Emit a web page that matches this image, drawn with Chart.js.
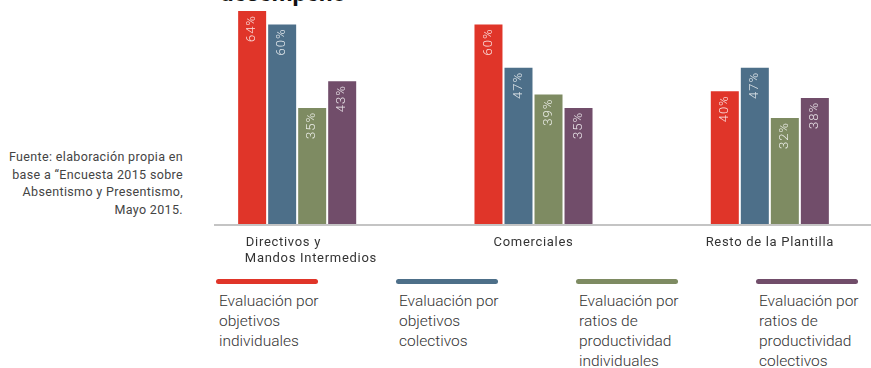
<!DOCTYPE html>
<html>
<head>
<meta charset="utf-8">
<script src="https://cdn.jsdelivr.net/npm/chart.js@4"></script>
<style>
    html, body { margin: 0; padding: 0; width: 871px; height: 368px; overflow: hidden; background: #fff; }
    #wrap { position: absolute; left: 0; top: 0; width: 900px; height: 270px; }
    #title { position: absolute; left: 220px; top: -21px; font: bold 24px Roboto, sans-serif; color: #111; white-space: nowrap; }
    #source { position: absolute; left: 0; top: 148px; width: 183px; text-align: right;
              font: 12.5px Roboto, sans-serif; letter-spacing: 0.35px; line-height: 17.5px; color: #444; white-space: nowrap; }
    .legend-item { position: absolute; top: 279px; width: 110px; }
    .legend-item .bar { height: 5px; border-radius: 3px; width: 102px; margin-left: -3px; }
    .legend-item .txt { margin-top: 7px; font: 300 15.5px Roboto, sans-serif; line-height: 20px; color: #333; }
</style>
</head>
<body>
<div id="title">desempeño</div>
<div id="source">Fuente: elaboración propia en<br>base a “Encuesta 2015 sobre<br>Absentismo y Presentismo,<br>Mayo 2015.</div>
<div id="wrap"><canvas id="chart" width="900" height="270"></canvas></div>
<div id="legend"></div>
<script>
let categories = [ ['Directivos y', 'Mandos Intermedios'], 'Comerciales', 'Resto de la Plantilla' ];
let seriesNames = [
    'Evaluación por objetivos individuales',
    'Evaluación por objetivos colectivos',
    'Evaluación por ratios de productividad individuales',
    'Evaluación por ratios de productividad colectivos'
];
let legendLines = [
    ['Evaluación por', 'objetivos', 'individuales'],
    ['Evaluación por', 'objetivos', 'colectivos'],
    ['Evaluación por', 'ratios de', 'productividad', 'individuales'],
    ['Evaluación por', 'ratios de', 'productividad', 'colectivos']
];
let objIndividual   = [ 64, 60, 40 ];
let objColectivo    = [ 60, 47, 47 ];
let ratioIndividual = [ 35, 39, 32 ];
let ratioColectivo  = [ 43, 35, 38 ];
let seriesColors = [ 'rgb(224,53,41)', 'rgb(77,111,137)', 'rgb(126,139,98)', 'rgb(113,77,106)' ];

let legendX = [ 219, 399, 579, 759 ];

// legend in html, multi-line labels under a thick coloured stroke
let legend = document.getElementById( 'legend' );
legendLines.forEach( ( lines, i ) => {
    let item = document.createElement( 'div' );
    item.className = 'legend-item';
    item.style.left = legendX[i] + 'px';
    item.title = seriesNames[i];
    item.innerHTML = '<div class="bar" style="background:' + seriesColors[i] + '"></div>' +
                     '<div class="txt">' + lines.join( '<br>' ) + '</div>';
    legend.appendChild( item );
} );

// percentages written bottom-to-top inside the top of every bar
let barLabels = {
    id: 'barLabels',
    afterDatasetsDraw: ( chart ) => {
        let ctx = chart.ctx;
        ctx.save();
        ctx.font = '300 13px Roboto, sans-serif';
        ctx.letterSpacing = '1px';
        ctx.fillStyle = 'rgba(255,255,255,0.85)';
        ctx.textAlign = 'right';
        ctx.textBaseline = 'middle';
        chart.data.datasets.forEach( ( ds, i ) => {
            chart.getDatasetMeta( i ).data.forEach( ( bar, j ) => {
                ctx.save();
                ctx.translate( bar.x, bar.y + 4 );
                ctx.rotate( -Math.PI / 2 );
                ctx.fillText( ds.data[j] + '%', 0, 0 );
                ctx.restore();
            } );
        } );
        ctx.restore();
    }
};

// grey base line, starting a little before the first group
let baseLine = {
    id: 'baseLine',
    beforeDraw: ( chart ) => {
        chart.ctx.letterSpacing = '0.7px';
    },
    afterDatasetsDraw: ( chart ) => {
        let ctx = chart.ctx;
        let y = chart.chartArea.bottom;
        ctx.save();
        ctx.strokeStyle = '#c4c4c4';
        ctx.lineWidth = 2;
        ctx.beginPath();
        ctx.moveTo( 214, y );
        ctx.lineTo( 900, y );
        ctx.stroke();
        ctx.restore();
    }
};

let data = {
    labels: categories,
    datasets: [
        { label: seriesNames[0], data: objIndividual,   backgroundColor: seriesColors[0] },
        { label: seriesNames[1], data: objColectivo,    backgroundColor: seriesColors[1] },
        { label: seriesNames[2], data: ratioIndividual, backgroundColor: seriesColors[2] },
        { label: seriesNames[3], data: ratioColectivo,  backgroundColor: seriesColors[3] }
    ]
};

let chart = new Chart( document.getElementById( 'chart' ).getContext( '2d' ), {
    type: 'bar',
    data: data,
    plugins: [ barLabels, baseLine ],
    options: {
        responsive: false,
        animation: false,
        layout: { padding: { left: 179, right: 12, top: 0, bottom: 0 } },
        datasets: { bar: { categoryPercentage: 0.508, barPercentage: 0.933 } },
        plugins: { legend: { display: false }, tooltip: { enabled: false } },
        scales: {
            y: { display: false, min: 0, max: 67.3 },
            x: {
                grid: { display: false },
                border: { display: false },
                afterFit: ( scale ) => { scale.height = 45; },
                ticks: {
                    padding: 2,
                    color: '#333',
                    maxRotation: 0,
                    // first category is a two-line block, kept flush left
                    callback: function ( value, index ) {
                        let label = this.getLabelForValue( value );
                        let nb = '\u00a0'.repeat( 7 );
                        return Array.isArray( label ) ? [ label[0] + nb, nb + label[1] ] : label;
                    },
                    font: { family: 'Roboto, sans-serif', size: 13, lineHeight: 1.2 }
                }
            }
        }
    }
} );
</script>
</body>
</html>
